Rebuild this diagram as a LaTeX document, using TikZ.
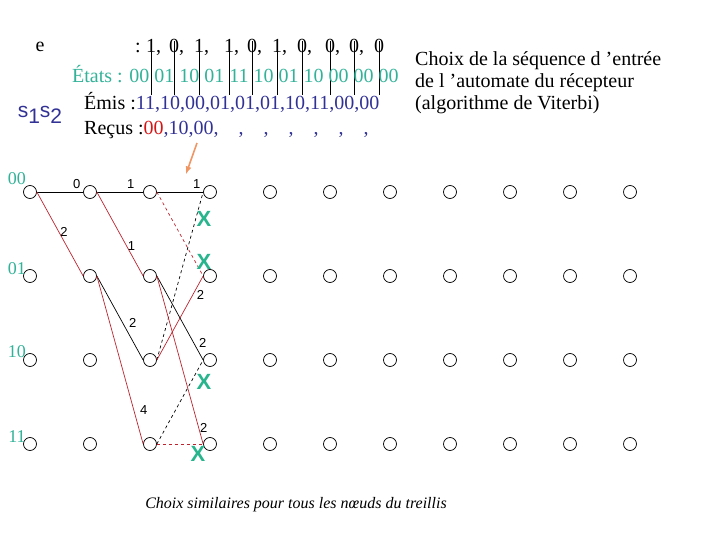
\documentclass[tikz,border=0pt]{standalone}
\usepackage{fontspec}
\setmainfont{Liberation Serif}
\setsansfont{Liberation Sans}
\usepackage{tikz}
\usetikzlibrary{arrows}

\definecolor{turq}{RGB}{50,178,152}
\definecolor{vert}{RGB}{40,180,140}
\definecolor{bleu}{RGB}{50,50,150}
\definecolor{rouge}{RGB}{215,20,20}
\definecolor{brique}{RGB}{190,35,45}
\definecolor{saumon}{RGB}{240,150,100}

\tikzset{
  etat/.style={circle,draw,minimum size=13pt,inner sep=0pt,line width=0.7pt},
  txt/.style={inner sep=0pt,font=\fontsize{20}{22}\selectfont},
  poids/.style={inner sep=1pt,text=black,font=\sffamily\fontsize{13}{13}\selectfont},
  croix/.style={inner sep=0pt,text=vert,font=\sffamily\bfseries\fontsize{22}{22}\selectfont},
  sur/.style={line width=0.7pt},
  rej/.style={line width=0.7pt,brique}
}

\begin{document}
\begin{tikzpicture}[>=latex,x=1pt,y=-1pt]
\useasboundingbox (0,0) rectangle (720,540);
% sequence d'entree
\node[txt] (e) at (40,47) {e};
\node[txt,anchor=base] (dp) at (138,53) {:};
\foreach \x/\v [count=\i] in {151/{1,},174/{0,},199/{1,},229/{1,},252/{0,},277/{1,},302/{0,},330/{0,},354/{0,},379/{0}} {
  \node[txt,anchor=base west] (d\i) at (\x-5,53) {\v};
  \draw[line width=0.6pt] (\x,41) -- (\x,95);
}
\node[txt,anchor=base west,text=turq] (etats) at (72,83) {États : 00 01 10 01 11 10 01 10 00 00 00};
\node[txt,text=bleu] (s12) at (40,115) {\sffamily\fontsize{21}{21}\selectfont s\raisebox{-6pt}{1}s\raisebox{-6pt}{2}};
\node[txt,anchor=base west] (emis) at (84,110) {Émis :\textcolor{bleu}{11,10,00,01,01,01,10,11,00,00}};
\node[txt,anchor=base west] (recus) at (84,135) {Reçus :\textcolor{rouge}{00}\textcolor{bleu}{,10,00,\phantom{00},\phantom{00},\phantom{00},\phantom{00},\phantom{00},\phantom{00},}};
\node[txt,anchor=north west,align=left] (titre) at (415,51) {Choix de la séquence d ’entrée\\de l ’automate du récepteur\\(algorithme de Viterbi)};

% treillis
\foreach \c in {0,...,10}
  \foreach \s/\y in {00/192,01/276,10/360,11/444}
    \node[etat] (n\c-\s) at (30+60*\c,\y) {};
\foreach \s/\y in {00/179,01/269,10/352,11/437}
  \node[txt,text=turq,font=\fontsize{18}{18}\selectfont] (l\s) at (17,\y) {\s};

\draw[sur] (n0-00.east) -- node[poids,pos=.86,above=2pt] {0} (n1-00.west);
\draw[rej] (n0-00.east) -- node[poids,pos=.48,right] {2} (n1-01.west);
\draw[sur] (n1-00.east) -- node[poids,pos=.73,above=2pt] {1} (n2-00.west);
\draw[rej] (n1-00.east) -- node[poids,pos=.64,right] {1} (n2-01.west);
\draw[sur] (n1-01.east) -- node[poids,pos=.56,right=5pt] {2} (n2-10.west);
\draw[rej] (n1-01.east) -- node[poids,pos=.8,right=5pt] {4} (n2-11.west);
\draw[sur] (n2-00.east) -- node[poids,pos=.86,above=2pt] {1} (n3-00.west);
\draw[rej,dashed] (n2-00.east) -- (n3-01.west);
\draw[sur,dashed] (n2-10.east) -- (n3-00.west);
\draw[rej] (n2-10.east) -- node[poids,pos=.77,right=3pt] {2} (n3-01.west);
\draw[sur] (n2-01.east) -- node[poids,pos=.8,right=4pt] {2} (n3-10.west);
\draw[rej] (n2-01.east) -- node[poids,pos=.905,right] {2} (n3-11.west);
\draw[sur,dashed] (n2-11.east) -- (n3-10.west);
\draw[rej,dashed] (n2-11.east) -- (n3-11.west);

% chemins elimines
\node[croix] (x1) at (204,219) {X};
\node[croix] (x2) at (204,262) {X};
\node[croix] (x3) at (204,382) {X};
\node[croix] (x4) at (198,454) {X};

\coordinate (f0) at (197,143);
\coordinate (f1) at (186,174);
\draw[->,saumon,line width=1.6pt] (f0) -- (f1);

\node[inner sep=0pt,font=\itshape\fontsize{16}{16}\selectfont] (note) at (296,505) {Choix similaires pour tous les nœuds du treillis};
\end{tikzpicture}
\end{document}
